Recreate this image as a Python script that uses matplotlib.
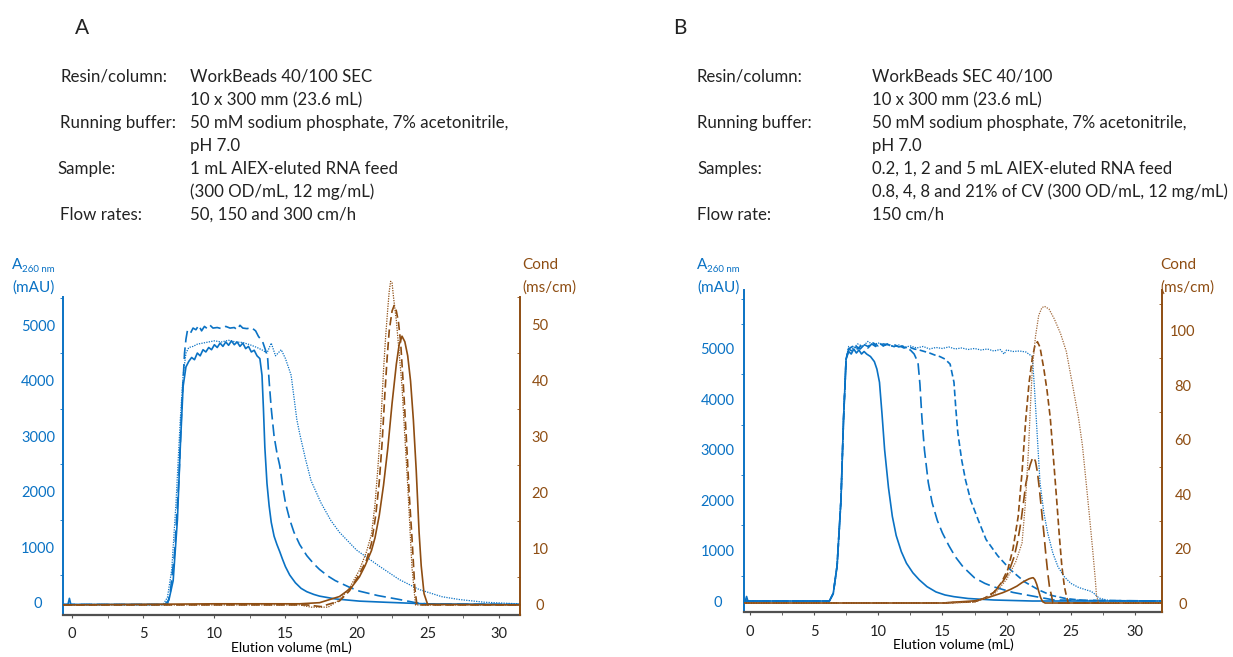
import matplotlib
matplotlib.use("Agg")
from matplotlib import pyplot as plt
from matplotlib.ticker import MultipleLocator

plt.rcParams['font.family'] = ['Lato', 'DejaVu Sans']

BLUE = '#0A72C4'
BROWN = '#8E4D12'
GREY = '#505050'

# ---- panel A: flow rates 50 / 150 / 300 cm/h ----
a_solid_x = [-0.6, -0.3, -0.2, -0.1, 6.5, 6.8, 7.1, 7.4, 7.6, 7.8, 8.0, 8.2, 8.4, 8.6, 8.8, 9.0, 9.2, 9.4,
             9.6, 9.8, 10.0, 10.2, 10.4, 10.6, 10.8, 11.0, 11.2, 11.4, 11.6, 11.8, 12.0, 12.2, 12.4, 12.6,
             12.8, 13.0, 13.2, 13.35, 13.45, 13.55, 13.7, 13.85, 14.0, 14.2, 14.4, 14.6, 14.8, 15.0, 15.3,
             15.7, 16.1, 16.5, 17.0, 17.4, 18.5, 20.2, 22.0, 25.0, 31.5]
a_solid_y = [-30, -30, 80, -30, -30, 50, 400, 1500, 2800, 3900, 4250, 4350, 4420, 4380, 4500, 4450, 4560, 4520,
             4600, 4560, 4650, 4600, 4680, 4620, 4700, 4640, 4720, 4650, 4700, 4620, 4680, 4580, 4620, 4520,
             4550, 4450, 4400, 4100, 3500, 2800, 2150, 1750, 1450, 1200, 1050, 920, 780, 650, 500,
             360, 260, 200, 150, 120, 70, 30, 10, -20, -30]

a_dash_x = [-0.6, 6.7, 6.9, 7.2, 7.5, 7.7, 7.9, 8.0, 8.1, 8.3, 8.5, 8.7, 8.9, 9.1, 9.3, 9.5, 9.7, 9.9, 10.2,
            10.5, 10.8, 11.1, 11.4, 11.6, 11.8, 12.0, 12.3, 12.6, 12.9, 13.1, 13.4, 13.6, 13.75, 13.85, 14.0,
            14.2, 14.4, 14.6, 14.8, 15.0, 15.3, 15.6, 16.0, 16.5, 17.0, 17.4, 18.0, 18.5, 19.5, 20.2, 21.5,
            23.0, 24.2, 25.0, 31.5]
a_dash_y = [-30, -30, 200, 900, 2200, 3500, 4500, 4750, 4900, 4850, 4950, 4920, 5000, 4900, 4980, 4940, 5000, 4950, 4960,
            4940, 4980, 4950, 4960, 4920, 5000, 4950, 4940, 4960, 4900, 4800, 4700, 4550, 4400, 4000, 3500,
            3000, 2700, 2470, 2100, 1800, 1500, 1270, 1050, 850, 700, 600, 480, 400, 280, 210, 130,
            60, 0, -20, -30]

a_dot_x = [-0.6, 6.4, 6.7, 7.0, 7.3, 7.6, 7.8, 8.0, 8.2, 8.5, 8.8, 9.2, 9.6, 10.0, 10.5, 11.0, 11.5, 12.0, 12.5,
           13.0, 13.4, 13.7, 14.0, 14.3, 14.7, 15.0, 15.4, 15.6, 15.8, 16.0, 16.4, 16.8, 17.5, 18.2, 18.8,
           20.0, 21.6, 23.0, 24.4, 26.0, 27.2, 29.0, 31.5]
a_dot_y = [-30, -30, 100, 600, 1800, 3300, 4100, 4500, 4600, 4620, 4660, 4680, 4700, 4720, 4700, 4730, 4700, 4690, 4650,
           4600, 4550, 4500, 4680, 4450, 4560, 4400, 4100, 3700, 3300, 3050, 2600, 2200, 1800, 1480, 1270,
           950, 660, 420, 240, 110, 60, 10, -20]

a_csolid_x = [-0.6, 10.0, 16.0, 17.4, 18.8, 19.6, 20.2, 20.6, 21.05, 21.3, 21.6, 21.9, 22.2, 22.5, 22.8, 23.0,
              23.2, 23.4, 23.6, 23.8, 24.0, 24.2, 24.4, 24.55, 24.75, 25.0, 31.5]
a_csolid_y = [0, 0.2, 0.2, 0.4, 1.5, 3.0, 5.0, 7.0, 9.7, 12, 16, 21.4, 28, 36, 43, 46.5,
              48, 47, 44.5, 40, 33, 24, 13, 7, 2, 0.1, 0]

a_cdash_x = [-0.6, 16.5, 17.5, 18.8, 19.5, 20.2, 20.7, 21.05, 21.35, 21.6, 21.8, 22.0, 22.15, 22.3, 22.5, 22.65,
             22.8, 22.95, 23.1, 23.3, 23.5, 23.7, 23.9, 24.1, 24.25, 31.5]
a_cdash_y = [0, 0, -0.3, 0.7, 2.5, 5.5, 8, 11, 16, 22, 29, 38, 44, 49, 52.5, 53.5,
             52.5, 50.5, 47, 39, 30, 20, 12, 3, 0, 0]

a_cdot_x = [-0.6, 16.0, 16.8, 18.0, 18.8, 19.5, 20.2, 20.7, 21.05, 21.3, 21.5, 21.7, 21.9, 22.05, 22.2, 22.3,
            22.4, 22.5, 22.6, 22.8, 23.0, 23.2, 23.4, 23.6, 23.9, 24.15, 31.5]
a_cdot_y = [0, 0, -0.4, -0.4, 0.9, 3, 6.2, 9.5, 12.6, 18, 24.4, 32, 42, 48, 53, 56,
            57.8, 57.5, 55, 50.8, 45, 39, 30, 21.4, 6.7, 0, 0]

# ---- panel B: sample volumes 0.2 / 1 / 2 / 5 mL ----
b_s1_x = [-0.6, -0.35, -0.25, -0.15, 6.2, 6.5, 6.8, 7.1, 7.3, 7.5, 7.7, 7.9, 8.1, 8.3, 8.5, 8.7, 8.9, 9.1,
          9.4, 9.7, 9.9, 10.1, 10.3, 10.5, 10.8, 11.1, 11.4, 11.8, 12.2, 12.7, 13.2, 13.8, 14.5, 15.2,
          15.9, 17.0, 19.0, 22.0, 32.1]
b_s1_y = [0, 0, 90, 0, 0, 150, 700, 2000, 3600, 4800, 4950, 4900, 5000, 4920, 4980, 4900, 4950, 4900,
          4850, 4750, 4600, 4340, 3700, 3000, 2250, 1680, 1300, 980, 750, 560, 420, 285, 180, 120,
          86, 50, 20, 0, 0]

b_s2_x = [-0.6, 6.2, 6.5, 6.8, 7.1, 7.3, 7.5, 7.7, 8.0, 8.3, 8.6, 8.9, 9.2, 9.5, 9.8, 10.1, 10.4, 10.7, 11.0,
          11.3, 11.6, 11.9, 12.2, 12.5, 12.8, 13.1, 13.25, 13.4, 13.6, 13.9, 14.2, 14.6, 15.0, 15.5, 16.0,
          16.6, 17.5, 18.3, 19.0, 20.5, 22.2, 23.7, 32.1]
b_s2_y = [0, 0, 150, 700, 2000, 3600, 4800, 5000, 4950, 5050, 5000, 5080, 5020, 5100, 5050, 5120, 5060, 5100, 5050,
          5080, 5040, 5060, 5000, 4980, 4900, 4730, 4300, 3650, 3000, 2350, 1950, 1600, 1350, 1100, 880,
          680, 460, 350, 280, 170, 90, 20, 0]

b_s3_x = [-0.6, 6.2, 6.5, 6.8, 7.1, 7.3, 7.5, 7.7, 8.0, 8.4, 8.8, 9.2, 9.6, 10.0, 10.4, 10.8, 11.2, 11.6, 12.0,
          12.4, 12.8, 13.2, 13.6, 14.0, 14.4, 14.8, 15.2, 15.6, 15.9, 16.05, 16.2, 16.5, 16.8, 17.2, 17.8,
          18.4, 19.3, 20.3, 21.4, 22.5, 23.5, 24.6, 26.0, 32.1]
b_s3_y = [0, 0, 150, 700, 2000, 3600, 4800, 5000, 5050, 5000, 5100, 5050, 5120, 5060, 5100, 5080, 5050, 5070, 5020,
          5040, 5000, 4980, 4950, 4920, 4880, 4850, 4800, 4700, 4340, 3800, 3340, 2800, 2400, 2000, 1600,
          1220, 900, 620, 380, 220, 110, 50, 10, 0]

b_s4_x = [-0.6, 6.2, 6.5, 6.8, 7.1, 7.3, 7.5, 7.7, 8.0, 8.4, 8.8, 9.2, 9.6, 10.0, 10.4, 10.8, 11.2, 11.6, 12.0,
          12.5, 13.0, 13.5, 14.0, 14.5, 15.0, 15.5, 16.0, 16.5, 17.0, 17.5, 18.0, 18.5, 19.0, 19.5, 19.8,
          20.0, 20.5, 21.0, 21.5, 22.0, 22.15, 22.3, 22.45, 22.6, 22.9, 23.2, 23.6, 24.0, 24.5, 25.0, 25.6,
          26.2, 26.6, 26.8, 27.1, 27.3, 28.0, 28.7, 32.1]
b_s4_y = [0, 0, 150, 700, 2000, 3600, 4800, 5050, 5000, 5100, 5050, 5150, 5080, 5120, 5060, 5100, 5040, 5080, 5030,
          5060, 5020, 5050, 5000, 5030, 5010, 5040, 5000, 5020, 4990, 5010, 4980, 5000, 4960, 4990, 4900,
          4980, 4950, 4960, 4940, 4850, 4300, 3660, 3000, 2350, 1750, 1350, 950, 680, 480, 350, 270,
          220, 190, 150, 80, 50, 10, 0, 0]

b_c1_x = [-0.6, 15.0, 17.5, 18.3, 19.0, 19.7, 20.3, 20.8, 21.2, 21.5, 21.75, 21.95, 22.07, 22.2, 22.35, 22.5,
          22.65, 22.8, 23.0, 32.1]
b_c1_y = [0, 0, 0.8, 1.6, 2.7, 3.8, 5.0, 6.2, 7.5, 8.3, 8.9, 9.2, 9.3, 8.6, 6.8, 4.3,
          2.0, 0.5, 0, 0]

b_c2_x = [-0.6, 15.0, 17.5, 18.3, 19.0, 19.5, 20.0, 20.3, 20.6, 20.85, 21.1, 21.3, 21.5, 21.7, 21.85, 22.0, 22.1,
          22.25, 22.4, 22.55, 22.7, 22.9, 23.05, 23.2, 23.35, 23.5, 23.6, 32.1]
b_c2_y = [0, 0, 0.5, 1.8, 3.9, 6.5, 10, 13.2, 17.2, 22.5, 29.3, 36.5, 43.9, 48.5, 51, 53, 53.6,
          52, 48, 42, 35, 25.7, 18, 11.2, 5.5, 2.7, 0, 0]

b_c3_x = [-0.6, 15.0, 17.5, 18.3, 19.0, 19.6, 20.1, 20.5, 20.9, 21.2, 21.5, 21.75, 22.0, 22.2, 22.4, 22.6, 22.9,
          23.15, 23.4, 23.65, 23.9, 24.1, 24.3, 24.5, 24.65, 24.8, 32.1]
b_c3_y = [0, 0, 0.5, 1.8, 3.9, 7.5, 12.4, 20, 31.8, 48, 68, 81, 90, 94.5, 96, 94, 86,
          78, 68, 53, 37.8, 25, 13.6, 6, 2.7, 0, 0]

b_c4_x = [-0.6, 15.0, 17.5, 19.0, 20.0, 20.7, 21.2, 21.45, 21.7, 21.85, 22.0, 22.25, 22.5, 22.75, 22.95, 23.3,
          23.7, 24.2, 24.65, 25.1, 25.6, 25.9, 26.2, 26.45, 26.7, 26.9, 27.0, 27.15, 32.1]
b_c4_y = [0, 0, 0.3, 3.0, 8.7, 15, 22, 36, 56, 72, 86, 98, 105.7, 108.5, 109, 108, 104.5, 99, 92.4, 81, 68,
          58, 43.9, 32, 19.6, 9, 2.7, 0.2, 0]

a_header = [("Resin/column:", "WorkBeads 40/100 SEC"), ("", "10 x 300 mm (23.6 mL)"),
            ("Running buffer:", "50 mM sodium phosphate, 7% acetonitrile,"), ("", "pH 7.0"),
            ("Sample:", "1 mL AIEX-eluted RNA feed"), ("", "(300 OD/mL, 12 mg/mL)"),
            ("Flow rates:", "50, 150 and 300 cm/h")]
b_header = [("Resin/column:", "WorkBeads SEC 40/100"), ("", "10 x 300 mm (23.6 mL)"),
            ("Running buffer:", "50 mM sodium phosphate, 7% acetonitrile,"), ("", "pH 7.0"),
            ("Samples:", "0.2, 1, 2 and 5 mL AIEX-eluted RNA feed"),
            ("", "0.8, 4, 8 and 21% of CV (300 OD/mL, 12 mg/mL)"),
            ("Flow rate:", "150 cm/h")]

W, H = 1233, 657
fig = plt.figure(figsize=(W / 100, H / 100), dpi=100)


def fx(px):
    return px / W


def fy(py):
    return 1 - py / H


def txt(px, py, s, **kw):
    fig.text(fx(px), fy(py), s, va='center', ha=kw.pop('ha', 'left'), **kw)


def panel(left, right, top, bottom, xlim, ylim, y2lim, y2major, y2minor, lpad, rpad):
    ax = fig.add_axes([fx(left), fy(bottom), fx(right - left), (bottom - top) / H])
    ax2 = ax.twinx()
    ax.spines['top'].set_visible(False)
    ax2.spines['top'].set_visible(False)
    ax.spines['right'].set_visible(False)
    ax2.spines['left'].set_visible(False)
    ax2.spines['bottom'].set_visible(False)
    ax.spines['left'].set_color(BLUE)
    ax.spines['left'].set_linewidth(1.4)
    ax2.spines['right'].set_color(BROWN)
    ax2.spines['right'].set_linewidth(1.4)
    ax.spines['bottom'].set_color(GREY)
    ax.spines['bottom'].set_linewidth(1.6)
    ax.xaxis.set_major_locator(MultipleLocator(5))
    ax.xaxis.set_minor_locator(MultipleLocator(2.5))
    ax.set_yticks([0, 1000, 2000, 3000, 4000, 5000])
    ax.yaxis.set_minor_locator(MultipleLocator(500))
    ax2.yaxis.set_major_locator(MultipleLocator(y2major))
    ax2.yaxis.set_minor_locator(MultipleLocator(y2minor))
    ax.tick_params(axis='x', which='both', length=2, color=GREY, labelsize=10.5, pad=7, labelcolor='#222222')
    ax.tick_params(axis='y', which='major', length=0, labelcolor=BLUE, labelsize=10.5, pad=lpad)
    ax.tick_params(axis='y', which='minor', length=2, color=BLUE)
    ax2.tick_params(axis='y', which='major', length=0, labelcolor=BROWN, labelsize=10.5, pad=rpad)
    ax2.tick_params(axis='y', which='minor', length=2, color=BROWN, direction='in')
    ax.set_xlim(*xlim)
    ax.set_ylim(*ylim)
    ax2.set_ylim(*y2lim)
    for lab in ax.get_yticklabels() + ax2.get_yticklabels():
        lab.set_horizontalalignment('center')
    return ax, ax2


# panel A
ax, ax2 = panel(63, 520, 297, 615, (-0.65, 31.5), (-220, 5510), (-1.8, 55), 10, 5, 18, 14.5)
ax.plot(a_solid_x, a_solid_y, color=BLUE, lw=1.2)
ax.plot(a_dash_x, a_dash_y, color=BLUE, lw=1.2, dashes=(7, 3))
ax.plot(a_dot_x, a_dot_y, color=BLUE, lw=0.9, dashes=(1, 1))
ax2.plot(a_csolid_x, a_csolid_y, color=BROWN, lw=1.2, clip_on=False)
ax2.plot(a_cdash_x, a_cdash_y, color=BROWN, lw=1.2, dashes=(5, 2.5), clip_on=False)
ax2.plot(a_cdot_x, a_cdot_y, color=BROWN, lw=0.9, dashes=(1, 1), clip_on=False)
ax.set_xlabel("Elution volume (mL)", fontsize=10, labelpad=0)

# panel B
bx, bx2 = panel(744, 1162, 290, 612, (-0.45, 32.1), (-218, 6170), (-3.3, 115), 20, 10, 19, 15)
bx.plot(b_s1_x, b_s1_y, color=BLUE, lw=1.2)
bx.plot(b_s2_x, b_s2_y, color=BLUE, lw=1.2, dashes=(7, 3))
bx.plot(b_s3_x, b_s3_y, color=BLUE, lw=1.2, dashes=(4, 2))
bx.plot(b_s4_x, b_s4_y, color=BLUE, lw=0.9, dashes=(1, 1))
bx2.plot(b_c1_x, b_c1_y, color=BROWN, lw=1.2)
bx2.plot(b_c2_x, b_c2_y, color=BROWN, lw=1.2, dashes=(7, 3))
bx2.plot(b_c3_x, b_c3_y, color=BROWN, lw=1.2, dashes=(4, 2))
bx2.plot(b_c4_x, b_c4_y, color='#A0683A', lw=0.9, dashes=(1, 1))
bx.set_xlabel("Elution volume (mL)", fontsize=10, labelpad=0)

# axis titles
for x0, x1 in [(12, 522), (697, 1160)]:
    txt(x0, 265, "A", color=BLUE, fontsize=11)
    txt(x0 + 10, 270, "260 nm", color=BLUE, fontsize=7)
    txt(x0, 288, "(mAU)", color=BLUE, fontsize=11)
    txt(x1, 265, "Cond", color=BROWN, fontsize=11)
    txt(x1, 288, "(ms/cm)", color=BROWN, fontsize=11)

# headers
txt(75, 28, "A", fontsize=15, color='#222222')
txt(673, 28, "B", fontsize=15, color='#222222')
rows_y = [77, 100, 123, 146, 169, 192, 215]
for (lab, val), y in zip(a_header, rows_y):
    lx = 57 if lab == "Sample:" else 60
    txt(lx, y, lab, fontsize=12.2, color='#222222')
    txt(190, y, val, fontsize=12.2, color='#222222')
for (lab, val), y in zip(b_header, rows_y):
    txt(697, y, lab, fontsize=12.1, color='#222222')
    txt(872, y, val, fontsize=11.9 if len(val) > 42 else 12.1, color='#222222')

fig.savefig("out.png", dpi=100)
